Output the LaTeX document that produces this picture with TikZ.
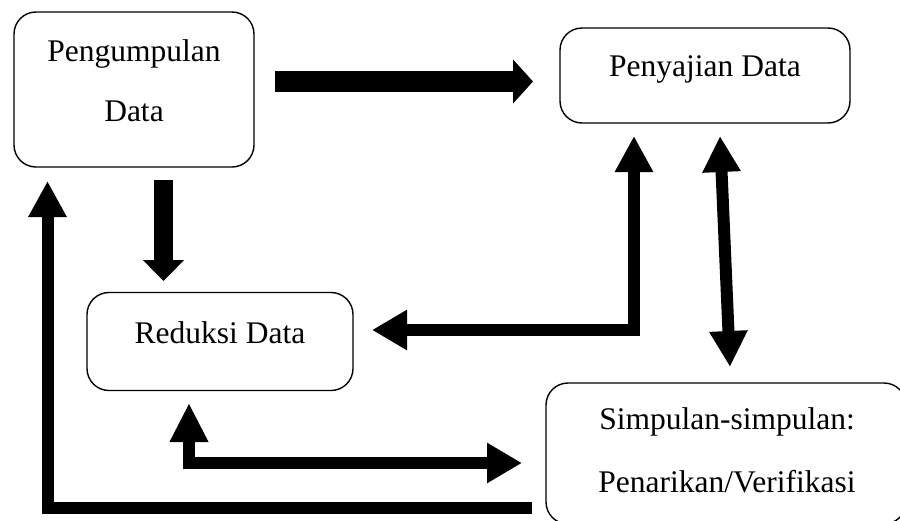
\documentclass[tikz,border=0pt]{standalone}
\usepackage{fontspec}
\setmainfont{Liberation Serif}
\usetikzlibrary{arrows.meta}
\begin{document}
\begin{tikzpicture}[x=1pt,y=-1pt,
  box/.style={draw=black, line width=1.4pt, rounded corners=22pt, inner sep=0pt},
  txt/.style={anchor=base, inner sep=0pt, font=\fontsize{31.5pt}{38pt}\selectfont},
  fat/.style={line width=#1, line join=miter, line cap=butt, draw=black},
  tipBig/.tip={Triangle[length=20pt,width=43pt]},
  tipDown/.tip={Triangle[length=21pt,width=40pt]},
  tipS/.tip={Triangle[length=36pt,width=36pt]},
  tipL/.tip={Triangle[length=35pt,width=38pt]},
  tipU/.tip={Triangle[length=39pt,width=36pt]}]
\useasboundingbox (0,0) rectangle (900,520);
\fill[white] (0,0) rectangle (900,520);
% boxes
\node[box, minimum width=240pt, minimum height=155pt] (pg) at (134,89.5) {};
\node[box, minimum width=290pt, minimum height=95pt] (pj) at (705,75.5) {};
\node[box, minimum width=266pt, minimum height=98pt] (rd) at (220,341.5) {};
\node[box, minimum width=360pt, minimum height=141pt] (sp) at (726,453.5) {};
% texts
\node[txt] (pg1) at (134,61) {Pengumpulan};
\node[txt] (pg2) at (134,121) {Data};
\node[txt] (pjt) at (705,76) {Penyajian Data};
\node[txt] (rdt) at (220,343.5) {Reduksi Data};
\node[txt] (sp1) at (727,429) {Simpulan-simpulan:};
\node[txt] (sp2) at (727,492) {Penarikan/Verifikasi};
% connector end points
\coordinate (a1) at (275,81.5);   \coordinate (a2) at (533,81.5);
\coordinate (b1) at (163.5,180);  \coordinate (b2) at (163.5,281);
\coordinate (c1) at (634,136);    \coordinate (c2) at (634,330);  \coordinate (c3) at (372,330);
\coordinate (d1) at (720,136);    \coordinate (d2) at (730,367);
\coordinate (e1) at (189,403);    \coordinate (e2) at (189,463);  \coordinate (e3) at (522,463);
\coordinate (f1) at (532,508);    \coordinate (f2) at (47.5,508); \coordinate (f3) at (47.5,181);
% connectors
\draw[fat=21pt, -tipBig] (a1) -- (a2);
\draw[fat=19pt, -tipDown] (b1) -- (b2);
\draw[fat=12pt, tipS-tipL] (c1) -- (c2) -- (c3);
\draw[fat=12pt, tipS-tipS] (d1) -- (d2);
\draw[fat=12pt, tipU-tipL] (e1) -- (e2) -- (e3);
\draw[fat=12pt, -tipS] (f1) -- (f2) -- (f3);
\end{tikzpicture}
\end{document}
